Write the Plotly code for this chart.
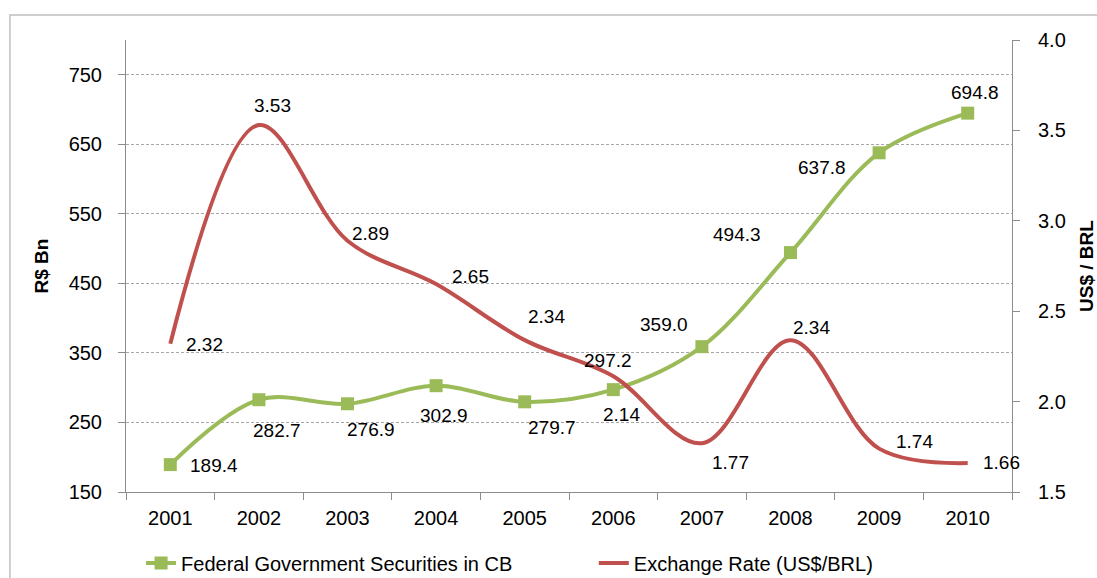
import plotly.graph_objects as go

# Data
years = ["2001", "2002", "2003", "2004", "2005", "2006", "2007", "2008", "2009", "2010"]
securities = [189.4, 282.7, 276.9, 302.9, 279.7, 297.2, 359.0, 494.3, 637.8, 694.8]
fx_rate = [2.32, 3.53, 2.89, 2.65, 2.34, 2.14, 1.77, 2.34, 1.74, 1.66]
left_ticks = [150, 250, 350, 450, 550, 650, 750]
right_ticks = [1.5, 2.0, 2.5, 3.0, 3.5, 4.0]

# Pixel offsets for the value labels (dx, dy), dy positive = upward
sec_label_offsets = [(44, -1), (18, -31), (23, -26), (8, -30), (27, -26),
                     (-5, 29), (-38, 22), (-54, 18), (-57, -15), (7, 21)]
fx_label_offsets = [(34, -1), (14, 19), (23, 7), (34, 8), (22, 24),
                    (8, -38), (29, -19), (21, 13), (35, 7), (34, 1)]

GREEN = "#9BBB59"
RED = "#C0504D"
AXIS = "#8C8C8C"
FONT = "Liberation Sans, Arial, sans-serif"

fig = go.Figure()

fig.add_trace(go.Scatter(
    x=years, y=securities, name="Federal Government Securities in CB",
    mode="lines+markers",
    line=dict(color=GREEN, width=4, shape="spline", smoothing=1.0),
    marker=dict(symbol="square", size=13, color=GREEN),
    yaxis="y", legend="legend",
))
fig.add_trace(go.Scatter(
    x=years, y=fx_rate, name="Exchange Rate (US$/BRL)",
    mode="lines",
    line=dict(color=RED, width=4, shape="spline", smoothing=1.0),
    yaxis="y2", legend="legend2",
))

# Value labels, placed by category index on the shared x axis
annotations = []
for i, (v, (dx, dy)) in enumerate(zip(securities, sec_label_offsets)):
    annotations.append(dict(x=i, y=v, xref="x", yref="y", text=f"{v:.1f}",
                            showarrow=False, xshift=dx, yshift=dy,
                            font=dict(family=FONT, size=19, color="#000000")))
for i, (v, (dx, dy)) in enumerate(zip(fx_rate, fx_label_offsets)):
    annotations.append(dict(x=i, y=v, xref="x", yref="y2", text=f"{v:.2f}",
                            showarrow=False, xshift=dx, yshift=dy,
                            font=dict(family=FONT, size=19, color="#000000")))

legend_style = dict(orientation="h", y=-0.157, yanchor="middle", xanchor="left",
                    itemwidth=30,
                    font=dict(family=FONT, size=20, color="#000000"),
                    bgcolor="rgba(0,0,0,0)")

fig.update_layout(
    width=1097, height=578,
    margin=dict(l=126, r=85, t=40, b=86, autoexpand=False),
    paper_bgcolor="white", plot_bgcolor="white",
    font=dict(family=FONT, size=20, color="#000000"),
    showlegend=True,
    legend=dict(x=0.017, **legend_style),
    legend2=dict(x=0.528, **legend_style),
    xaxis=dict(
        type="category", range=[-0.5, 9.5],
        showline=True, linecolor=AXIS, linewidth=1,
        ticks="outside", tickson="boundaries", ticklen=7, tickcolor=AXIS,
        showgrid=False, ticklabelstandoff=8,
        tickfont=dict(family=FONT, size=20),
    ),
    yaxis=dict(
        range=[150, 800], tickvals=left_ticks,
        showline=True, linecolor=AXIS, linewidth=1,
        ticks="outside", ticklen=7, tickcolor=AXIS,
        showgrid=True, gridcolor="#A6A6A6", gridwidth=1, griddash="3px,2px",
        zeroline=False, ticklabelstandoff=12,
        tickfont=dict(family=FONT, size=20),
        title=dict(text="<b>R$ Bn</b>", standoff=14,
                   font=dict(family=FONT, size=19)),
    ),
    yaxis2=dict(
        range=[1.5, 4.0], tickvals=right_ticks, tickformat=".1f",
        overlaying="y", side="right",
        showline=True, linecolor=AXIS, linewidth=1,
        ticks="outside", ticklen=7, tickcolor=AXIS,
        showgrid=False, zeroline=False, ticklabelstandoff=14,
        tickfont=dict(family=FONT, size=20),
        title=dict(text="<b>US$ / BRL</b>", standoff=24,
                   font=dict(family=FONT, size=19)),
    ),
    annotations=annotations,
    shapes=[dict(type="rect", xref="paper", yref="paper",
                 x0=-0.131, x1=1.12, y0=-0.3, y1=1.0553,
                 line=dict(color="#BFBFBF", width=1.5), layer="below")],
)

fig.write_html("out.html")
